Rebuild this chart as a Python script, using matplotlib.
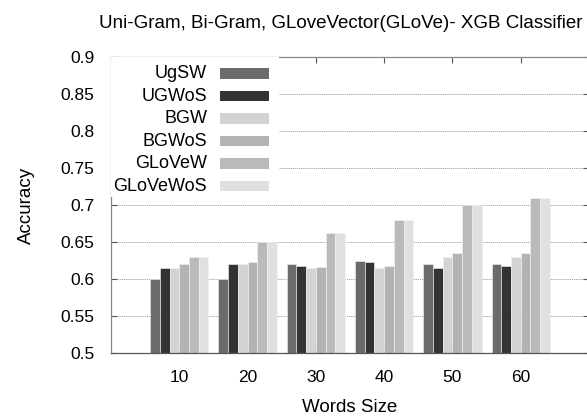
import matplotlib
matplotlib.use('Agg')
import matplotlib.pyplot as plt
from matplotlib.patches import Rectangle
import numpy as np

plt.rcParams['font.family'] = ['Liberation Sans', 'DejaVu Sans']

words_size = ['10', '20', '30', '40', '50', '60']
series_names = ['UgSW', 'UGWoS', 'BGW', 'BGWoS', 'GLoVeW', 'GLoVeWoS']

ugsw = [0.600, 0.600, 0.620, 0.625, 0.620, 0.620]
ugwos = [0.615, 0.620, 0.618, 0.623, 0.615, 0.617]
bgw = [0.615, 0.620, 0.615, 0.615, 0.630, 0.630]
bgwos = [0.620, 0.623, 0.616, 0.617, 0.635, 0.635]
glovew = [0.630, 0.650, 0.662, 0.680, 0.700, 0.710]
glovewos = [0.630, 0.650, 0.662, 0.680, 0.700, 0.710]

series = [ugsw, ugwos, bgw, bgwos, glovew, glovewos]
colors = ['#6b6b6b', '#333333', '#d3d3d3', '#b3b3b3', '#bababa', '#e0e0e0']

fig = plt.figure(figsize=(5.87, 4.17), dpi=100)
ax = fig.add_axes([111 / 587, 1 - 353 / 417, 478 / 587, 296 / 417])

x = np.arange(len(words_size))
w = 0.142
for i, (vals, c) in enumerate(zip(series, colors)):
    ax.bar(x + (i - 2.5) * w, vals, width=w, color=c, edgecolor='#f4f4f4',
           linewidth=0.4, zorder=2)

ax.set_xlim(-1, 6)
ax.set_ylim(0.5, 0.9)
ax.set_xticks(x)
ax.set_xticklabels(words_size)
ax.set_yticks(np.arange(0.5, 0.901, 0.05))
ax.set_yticklabels(['0.5', '0.55', '0.6', '0.65', '0.7', '0.75', '0.8', '0.85', '0.9'])
ax.tick_params(direction='in', length=4, width=0.8, color='#555555',
               labelsize=12.5, top=True, right=True)
ax.tick_params(axis='y', pad=12)
ax.tick_params(axis='x', pad=12)

ax.set_axisbelow(True)
ax.yaxis.grid(True, linestyle=(0, (1.5, 1)), color='#9a9a9a', linewidth=0.6)

for s in ax.spines.values():
    s.set_color('#888888')
    s.set_linewidth(0.9)
ax.spines['bottom'].set_color('#555555')

ax.set_ylabel('Accuracy', fontsize=13.5, labelpad=18)
ax.set_xlabel('Words Size', fontsize=13.5, labelpad=10)
fig.text(341 / 587, 1 - 23 / 417, 'Uni-Gram, Bi-Gram, GLoveVector(GLoVe)- XGB Classifier',
         ha='center', va='center', fontsize=13.5)

# key box in the upper-left corner, text right-aligned before each swatch
def px(xp, yp):
    return ((xp - 111) / 478, (353 - yp) / 296)

bx0, by0 = px(111, 197)
bx1, by1 = px(279, 57)
ax.add_patch(Rectangle((bx0, by0), bx1 - bx0, by1 - by0, transform=ax.transAxes,
                       facecolor='white', edgecolor='none', zorder=3))
for k, (name, c) in enumerate(zip(series_names, colors)):
    yc = 73.7 + k * 22.5
    tx, ty = px(207, yc)
    ax.text(tx, ty, name, transform=ax.transAxes, ha='right', va='center',
            fontsize=13, zorder=4)
    rx0, ry0 = px(220, yc + 5.3)
    rx1, ry1 = px(269, yc - 5.3)
    ax.add_patch(Rectangle((rx0, ry0), rx1 - rx0, ry1 - ry0, transform=ax.transAxes,
                           facecolor=c, edgecolor='none', zorder=4))

fig.savefig('out.png', dpi=100)
